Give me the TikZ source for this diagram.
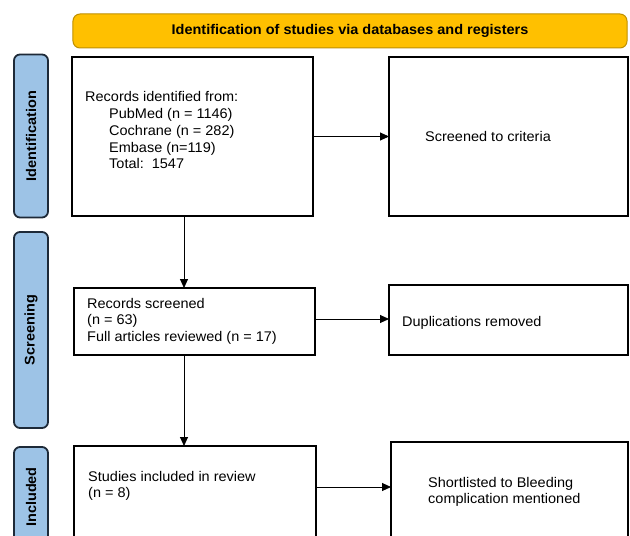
\documentclass[tikz,border=0pt]{standalone}
\usepackage{fontspec}
\setmainfont{Liberation Sans}[FakeStretch=1.035]
\usepackage{tikz}
\usetikzlibrary{positioning,arrows.meta,calc}
\usepackage{xcolor}
\definecolor{goldFill}{HTML}{FFC000}
\definecolor{goldLine}{HTML}{BF9000}
\definecolor{phaseBlue}{HTML}{9DC3E6}
\definecolor{phaseLine}{HTML}{1E2A38}
\newcommand{\indentSrc}{\hspace*{24bp}}

\begin{document}
\begin{tikzpicture}[
        x=1bp, y=-1bp,
        font=\fontsize{14bp}{16.7bp}\selectfont,
        headBar/.style={draw=goldLine, fill=goldFill, line width=1bp, rounded corners=7bp, font=\fontsize{14bp}{16.7bp}\selectfont\bfseries, minimum width=554bp, minimum height=34bp, inner sep=0pt},
        phaseBar/.style={draw=phaseLine, fill=phaseBlue, line width=1.8bp, rounded corners=6bp, rotate=90, font=\fontsize{14bp}{16.7bp}\selectfont\bfseries, minimum height=34bp, inner sep=0pt},
        flowBox/.style={draw=black, line width=1.4bp, anchor=north west, outer sep=0pt, inner sep=0pt},
        boxText/.style={anchor=base west, align=left, inner sep=0pt},
        arrowStyle/.style={-{Triangle[length=9bp,width=8bp]}, line width=0.9bp, draw=black}
    ]
        \fill[white] (0,0) rectangle (630,536);
        \useasboundingbox (0,0) rectangle (630,536);
        \clip (0,0) rectangle (630,536);

        % Header
        \node[headBar] (head) at (350, 31) {Identification of studies via databases and registers};

        % Phase bars
        \node[phaseBar, minimum width=163bp] (idBar) at (31, 136) {Identification};
        \node[phaseBar, minimum width=196bp] (scrBar) at (31, 330) {Screening};
        \node[phaseBar, minimum width=100bp] (incBar) at (31, 497) {Included};

        % Identification row (text nodes anchored on their last baseline)
        \node[flowBox, minimum width=241bp, minimum height=159bp] (b1) at (72, 57) {};
        \node[flowBox, minimum width=239bp, minimum height=159bp] (b2) at (389, 57) {};
        \node[boxText] (t1) at (85, 168.8) {Records identified from:\\
            \indentSrc PubMed (n = 1146)\\
            \indentSrc Cochrane (n = 282)\\
            \indentSrc Embase (n=119)\\
            \indentSrc Total:\ \ 1547};
        \node[boxText] (t2) at (425, 142) {Screened to criteria};

        % Screening row
        \node[flowBox, minimum width=241bp, minimum height=67bp] (b3) at (74, 288) {};
        \node[flowBox, minimum width=239bp, minimum height=70bp] (b4) at (389, 285) {};
        \node[boxText] (t3) at (87, 341.4) {Records screened\\
            (n = 63)\\
            Full articles reviewed (n = 17)};
        \node[boxText] (t4) at (402, 326) {Duplications removed};

        % Included row
        \node[flowBox, minimum width=242bp, minimum height=150bp] (b5) at (74, 446) {};
        \node[flowBox, minimum width=237bp, minimum height=150bp] (b6) at (391, 442) {};
        \node[boxText] (t5) at (88, 497.7) {Studies included in review\\
            (n = 8)};
        \node[boxText] (t6) at (428, 503.7) {Shortlisted to Bleeding\\
            complication mentioned};

        % Connectors
        \draw[arrowStyle] (b1.east) -- (b2.west);
        \draw[arrowStyle] ([xshift=-8.5bp]b1.south) -- ([xshift=-8.5bp]b1.south |- b3.north);
        \draw[arrowStyle] ([yshift=2.5bp]b3.east) -- ([yshift=2.5bp]b3.east -| b4.west);
        \draw[arrowStyle] ([xshift=-10.5bp]b3.south) -- ([xshift=-10.5bp]b3.south |- b5.north);
        \draw[arrowStyle] ([yshift=-41bp]b5.north east) -- ([yshift=-41bp]b5.north east -| b6.west);
    \end{tikzpicture}
\end{document}
